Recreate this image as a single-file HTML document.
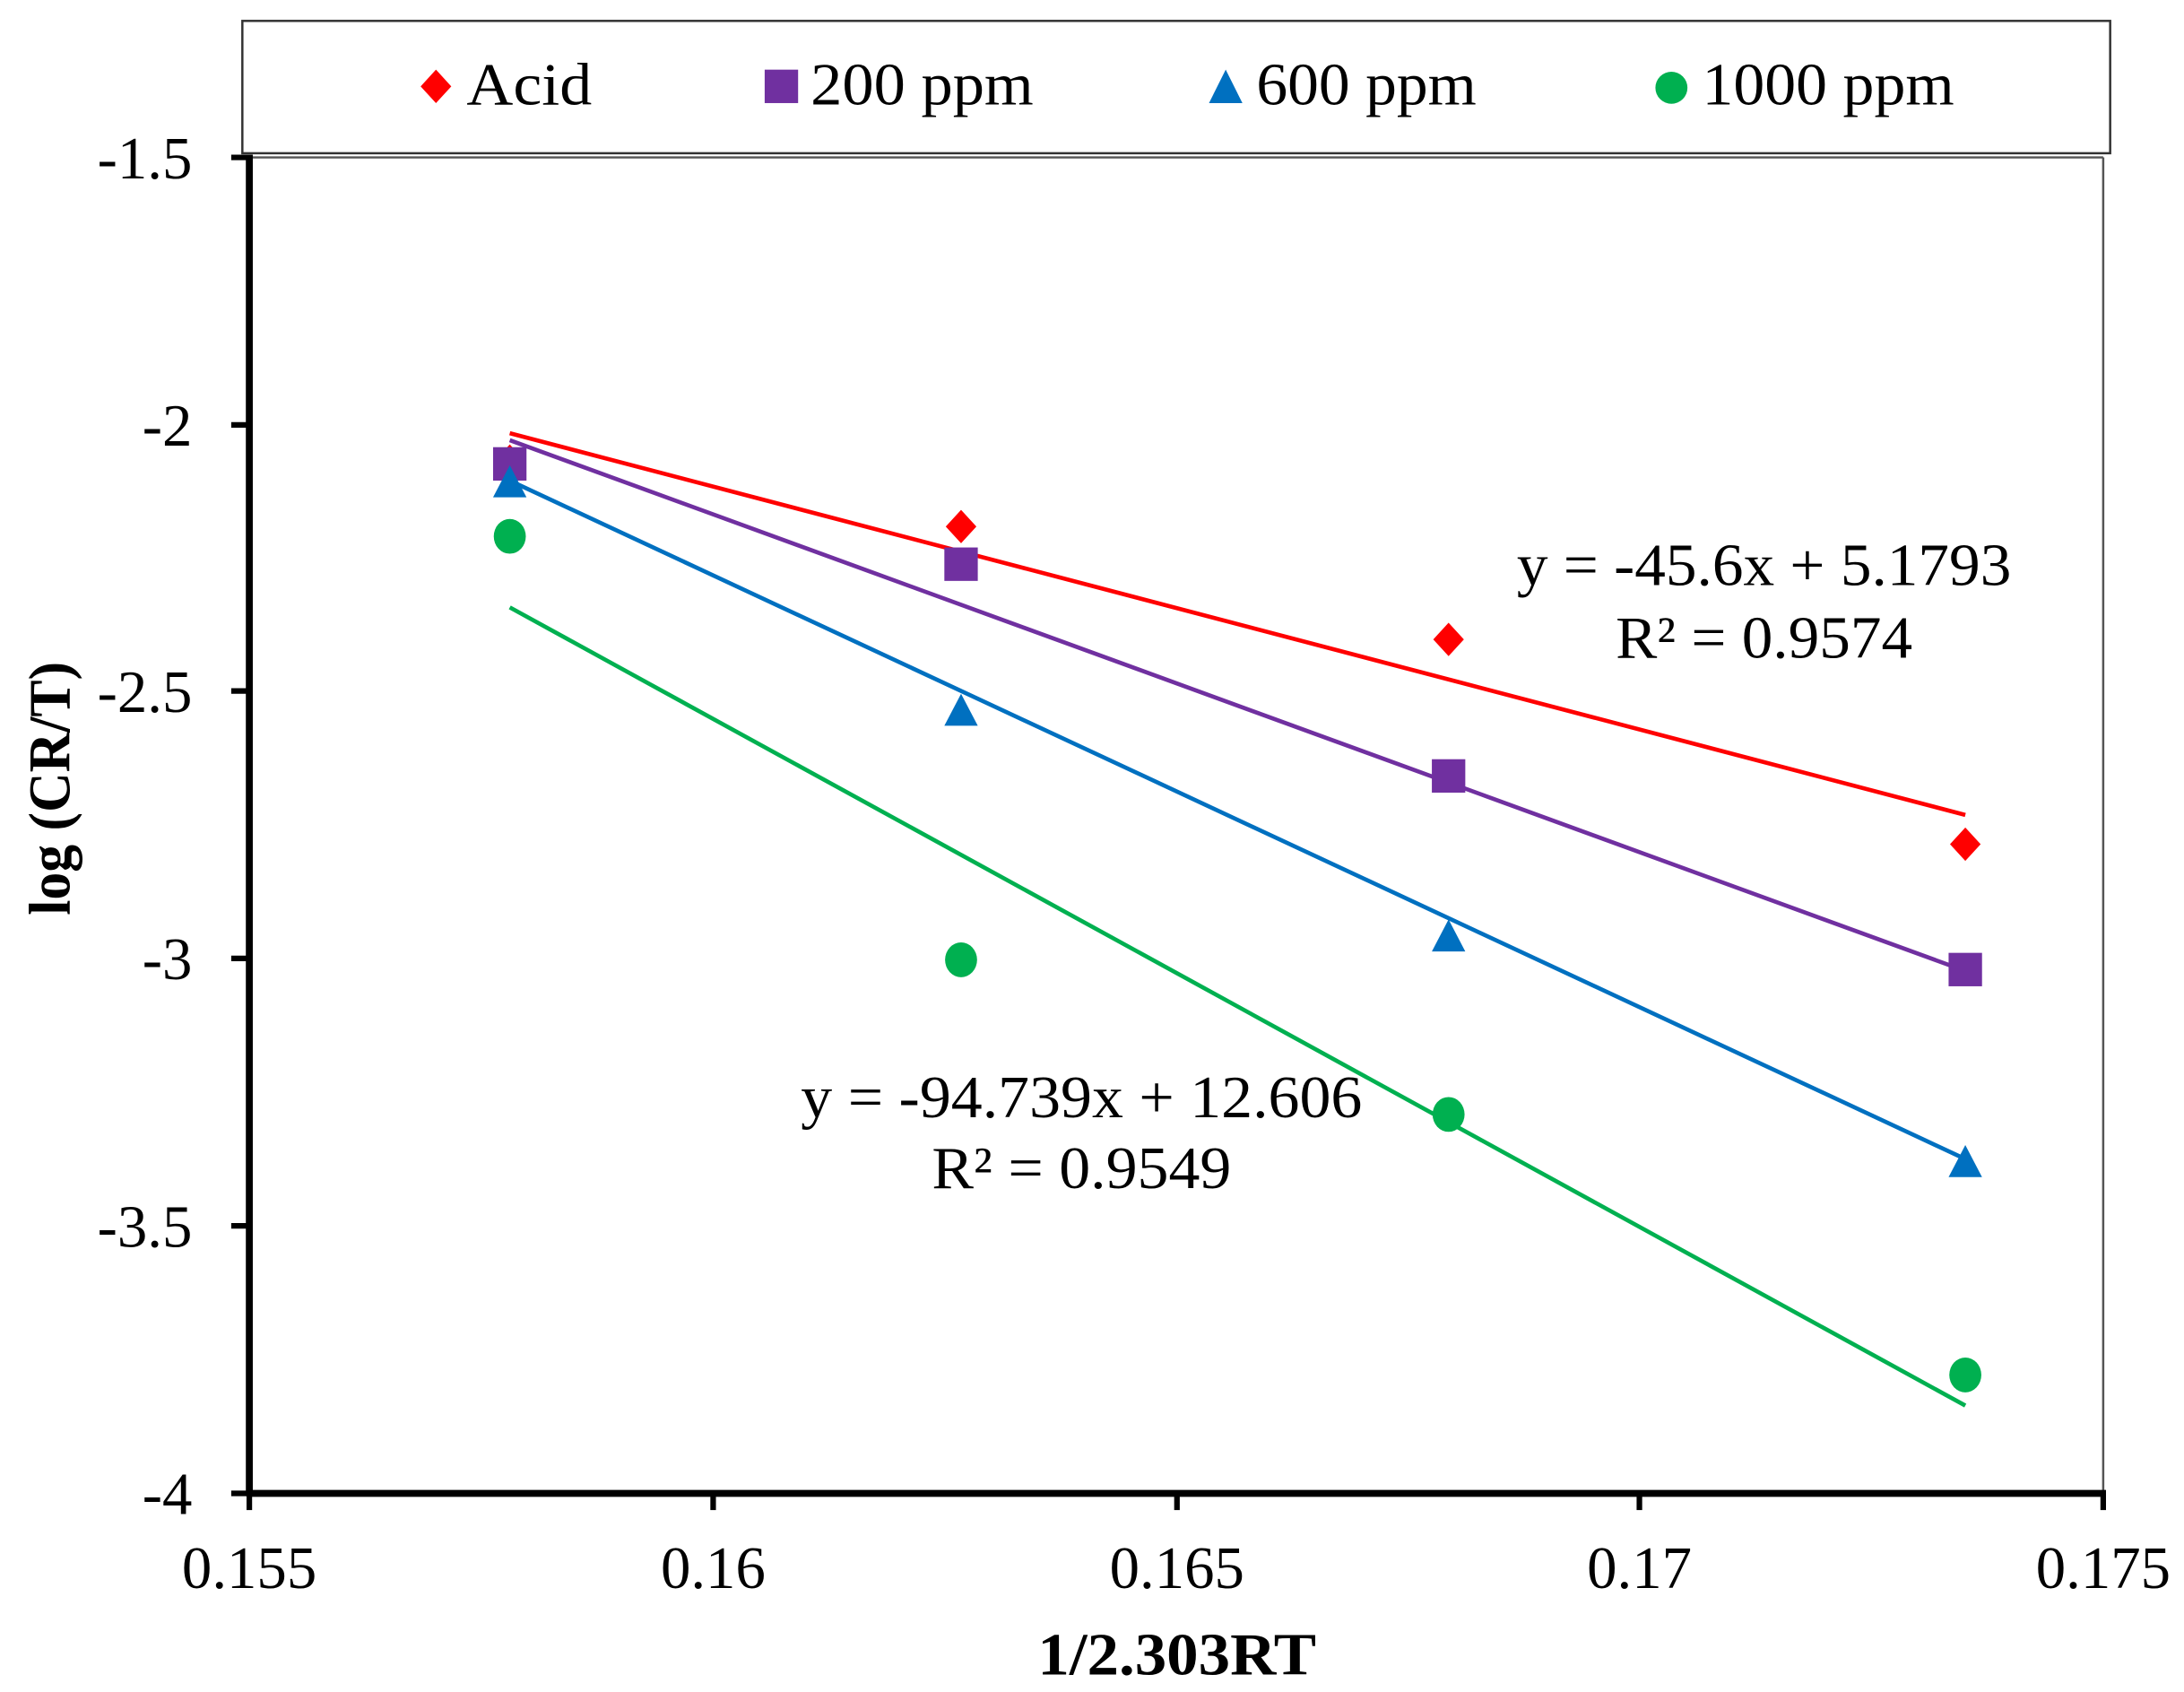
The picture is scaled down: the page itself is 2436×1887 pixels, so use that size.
<!DOCTYPE html>
<html><head><meta charset="utf-8"><style>
html,body{margin:0;padding:0;background:#fff;}
svg{display:block;}
text{font-family:"Liberation Serif",serif;fill:#000;}
</style></head><body>
<svg width="2436" height="1887" viewBox="0 0 1568 1214.6" preserveAspectRatio="none" xmlns="http://www.w3.org/2000/svg">
<rect x="0" y="0" width="1568" height="1214.6" fill="#fff"/>
<rect x="174" y="15" width="1341" height="95" fill="none" stroke="#333" stroke-width="1.6"/>
<polygon points="313,50 324,62 313,74 302,62" fill="#ff0000"/>
<text x="335" y="75" font-size="43" textLength="90" lengthAdjust="spacingAndGlyphs">Acid</text>
<rect x="549" y="50" width="24" height="24" fill="#7030a0"/>
<text x="582" y="75" font-size="43" textLength="160" lengthAdjust="spacingAndGlyphs">200 ppm</text>
<polygon points="880,50 892,74 868,74" fill="#0070c0"/>
<text x="902" y="75" font-size="43" textLength="158" lengthAdjust="spacingAndGlyphs">600 ppm</text>
<circle cx="1200" cy="63" r="11.5" fill="#00b050"/>
<text x="1222" y="75" font-size="43" textLength="181" lengthAdjust="spacingAndGlyphs">1000 ppm</text>
<line x1="179" y1="113" x2="1510" y2="113" stroke="#555" stroke-width="1.6"/>
<line x1="1510" y1="113" x2="1510" y2="1072" stroke="#555" stroke-width="1.6"/>
<line x1="179" y1="111" x2="179" y2="1074" stroke="#000" stroke-width="5"/>
<line x1="177" y1="1072" x2="1512" y2="1072" stroke="#000" stroke-width="5"/>
<g stroke="#000" stroke-width="4">
<line x1="166" y1="113" x2="179" y2="113"/>
<line x1="166" y1="305" x2="179" y2="305"/>
<line x1="166" y1="496" x2="179" y2="496"/>
<line x1="166" y1="688" x2="179" y2="688"/>
<line x1="166" y1="880" x2="179" y2="880"/>
<line x1="166" y1="1072" x2="179" y2="1072"/>
<line x1="179" y1="1072" x2="179" y2="1084"/>
<line x1="512" y1="1072" x2="512" y2="1084"/>
<line x1="845" y1="1072" x2="845" y2="1084"/>
<line x1="1177" y1="1072" x2="1177" y2="1084"/>
<line x1="1510" y1="1072" x2="1510" y2="1084"/>
</g>
<g font-size="43" text-anchor="end">
<text x="138" y="128">-1.5</text>
<text x="138" y="320">-2</text>
<text x="138" y="511">-2.5</text>
<text x="138" y="703">-3</text>
<text x="138" y="895">-3.5</text>
<text x="138" y="1087">-4</text>
</g>
<g font-size="43" text-anchor="middle">
<text x="179" y="1140">0.155</text>
<text x="512" y="1140">0.16</text>
<text x="845" y="1140">0.165</text>
<text x="1177" y="1140">0.17</text>
<text x="1510" y="1140">0.175</text>
</g>
<text x="745" y="1202" font-size="43" font-weight="bold" textLength="200" lengthAdjust="spacingAndGlyphs">1/2.303RT</text>
<text transform="translate(50,566) rotate(-90)" font-size="42" font-weight="bold" text-anchor="middle" textLength="182" lengthAdjust="spacingAndGlyphs">log (CR/T)</text>
<line x1="366" y1="311" x2="1411" y2="585" stroke="#ff0000" stroke-width="3"/>
<line x1="366" y1="316" x2="1411" y2="697" stroke="#7030a0" stroke-width="3"/>
<line x1="366" y1="345" x2="1411" y2="832" stroke="#0070c0" stroke-width="3"/>
<line x1="366" y1="436" x2="1411" y2="1009" stroke="#00b050" stroke-width="3"/>
<g fill="#ff0000">
<polygon points="366,319 377,331 366,343 355,331"/>
<polygon points="690,366 701,378 690,390 679,378"/>
<polygon points="1040,447 1051,459 1040,471 1029,459"/>
<polygon points="1411,594 1422,606 1411,618 1400,606"/>
</g>
<g fill="#7030a0">
<rect x="354" y="321" width="24" height="24"/>
<rect x="678" y="393" width="24" height="24"/>
<rect x="1028" y="545" width="24" height="24"/>
<rect x="1399" y="684" width="24" height="24"/>
</g>
<g fill="#0070c0">
<polygon points="366,334 378,357 354,357"/>
<polygon points="690,498 702,521 678,521"/>
<polygon points="1040,660 1052,683 1028,683"/>
<polygon points="1411,822 1423,845 1399,845"/>
</g>
<g fill="#00b050">
<ellipse cx="366" cy="385" rx="11.5" ry="12.5"/>
<ellipse cx="690" cy="689" rx="11.5" ry="12.5"/>
<ellipse cx="1040" cy="800" rx="11.5" ry="12.5"/>
<ellipse cx="1411" cy="987" rx="11.5" ry="12.5"/>
</g>
<text x="1089" y="420" font-size="43" textLength="355" lengthAdjust="spacingAndGlyphs">y = -45.6x + 5.1793</text>
<text x="1160" y="472" font-size="43" textLength="213" lengthAdjust="spacingAndGlyphs">R² = 0.9574</text>
<text x="575" y="802" font-size="43" textLength="403" lengthAdjust="spacingAndGlyphs">y = -94.739x + 12.606</text>
<text x="669" y="853" font-size="43" textLength="215" lengthAdjust="spacingAndGlyphs">R² = 0.9549</text>
</svg>
</body></html>
